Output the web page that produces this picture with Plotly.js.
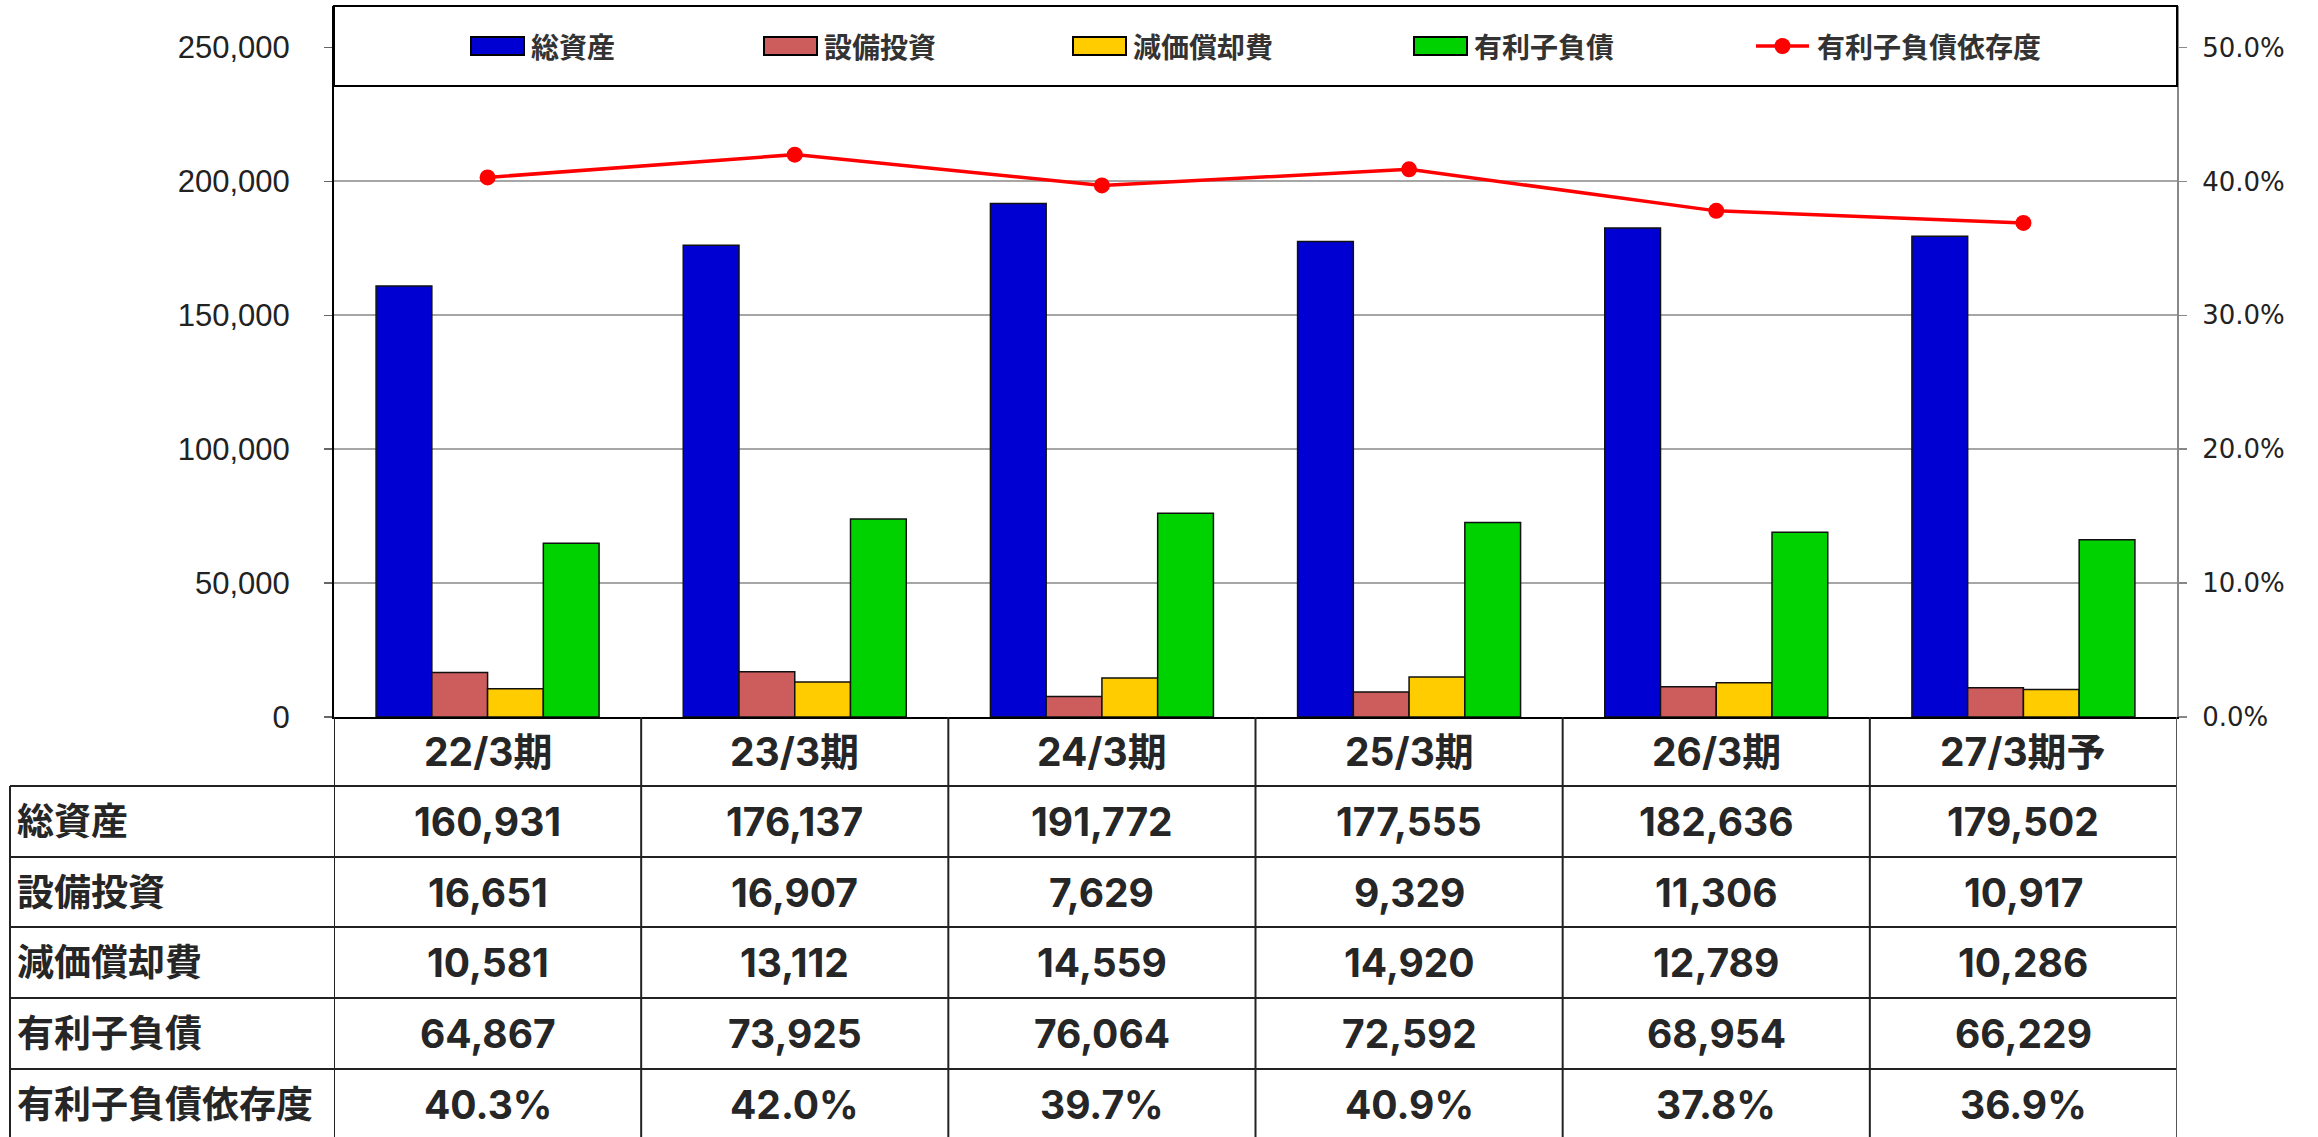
<!DOCTYPE html>
<html>
<head>
<meta charset="utf-8">
<script src="https://cdn.plot.ly/plotly-3.0.1.min.js"></script>
<style>
  html, body { margin: 0; padding: 0; background: #ffffff; }
  #chart { width: 2318px; height: 1137px; }
</style>
</head>
<body>
<div id="chart"></div>
<script>
// ---- data ----
const categories = ['22/3期', '23/3期', '24/3期', '25/3期', '26/3期', '27/3期予'];
const totalAssets = [160931, 176137, 191772, 177555, 182636, 179502];
const capex = [16651, 16907, 7629, 9329, 11306, 10917];
const depreciation = [10581, 13112, 14559, 14920, 12789, 10286];
const interestDebt = [64867, 73925, 76064, 72592, 68954, 66229];
const debtRatio = [40.3, 42.0, 39.7, 40.9, 37.8, 36.9]; // percent
const seriesNames = ['総資産', '設備投資', '減価償却費', '有利子負債', '有利子負債依存度'];

// ---- styling / geometry ----
const colors = ['#0000D2', '#CD5C5C', '#FFCC00', '#00D200', '#FF0000'];
const W = 2318, H = 1137;
const M = { l: 334, r: 141, t: 6, b: 420 };
const plotW = W - M.l - M.r, plotH = H - M.t - M.b;
const plotBottom = H - M.b;
const px2x = px => (px - M.l) / plotW;
const py2y = py => (plotBottom - py) / plotH;

const tableFont = { family: 'Inter, "Noto Sans CJK JP", sans-serif', size: 39, color: '#262626', weight: 700 };
const labelFont = { family: 'Inter, "Noto Sans CJK JP", sans-serif', size: 37, color: '#262626', weight: 700 };
const legendFont = { family: '"Noto Sans CJK JP", sans-serif', size: 28, color: '#333333', weight: 700 };

const barSeries = [totalAssets, capex, depreciation, interestDebt];
const traces = barSeries.map((vals, i) => ({
  type: 'bar',
  name: seriesNames[i],
  x: categories,
  y: vals,
  marker: { color: colors[i], line: { color: '#111111', width: 1.5 } },
  showlegend: false,
  hoverinfo: 'x+y+name'
}));
traces.push({
  type: 'scatter',
  mode: 'lines+markers',
  name: seriesNames[4],
  x: categories,
  y: debtRatio.map(v => v / 100),
  yaxis: 'y2',
  line: { color: colors[4], width: 3.5 },
  marker: { color: colors[4], size: 16 },
  showlegend: false
});

const shapes = [];
const annotations = [];

// Legend box
shapes.push({ type: 'rect', xref: 'paper', yref: 'paper', x0: 0, x1: 1, y0: py2y(86), y1: py2y(6),
  fillcolor: '#ffffff', line: { color: '#000000', width: 2 }, layer: 'above' });

// Custom legend entries
const legSymX = [471, 764, 1073, 1414, 1756];
const legTextX = [529, 822, 1131, 1472, 1815];
const legY = 46;
seriesNames.forEach((name, i) => {
  if (i < 4) {
    shapes.push({ type: 'rect', xref: 'paper', yref: 'paper',
      x0: px2x(legSymX[i]), x1: px2x(legSymX[i] + 53), y0: py2y(legY + 9), y1: py2y(legY - 9),
      fillcolor: colors[i], line: { color: '#000000', width: 2 }, layer: 'above' });
  } else {
    shapes.push({ type: 'line', xref: 'paper', yref: 'paper',
      x0: px2x(legSymX[i]), x1: px2x(legSymX[i] + 53), y0: py2y(legY), y1: py2y(legY),
      line: { color: colors[i], width: 3.5 }, layer: 'above' });
    shapes.push({ type: 'circle', xref: 'paper', yref: 'paper',
      x0: px2x(legSymX[i] + 26.5 - 8), x1: px2x(legSymX[i] + 26.5 + 8),
      y0: py2y(legY + 8), y1: py2y(legY - 8),
      fillcolor: colors[i], line: { color: colors[i], width: 0 }, layer: 'above' });
  }
  annotations.push({ xref: 'paper', yref: 'paper', x: px2x(legTextX[i]), y: py2y(legY),
    xanchor: 'left', yanchor: 'middle', text: name, showarrow: false, font: legendFont });
});

// ---- table ----
const rowBounds = [717, 786, 857, 927, 998, 1069, 1140];
const tableLeft = 10;
const rowLabels = seriesNames;
const fmtInt = v => v.toLocaleString('en-US');
const rowValues = [
  totalAssets.map(fmtInt),
  capex.map(fmtInt),
  depreciation.map(fmtInt),
  interestDebt.map(fmtInt),
  debtRatio.map(v => v.toFixed(1) + '%')
];

// horizontal lines (data rows)
for (let r = 1; r < rowBounds.length - 1; r++) {
  shapes.push({ type: 'line', xref: 'paper', yref: 'paper', x0: px2x(tableLeft), x1: 1,
    y0: py2y(rowBounds[r]), y1: py2y(rowBounds[r]), line: { color: '#222222', width: 2 } });
}
// left border of label column
shapes.push({ type: 'line', xref: 'paper', yref: 'paper', x0: px2x(tableLeft), x1: px2x(tableLeft),
  y0: py2y(rowBounds[1]), y1: py2y(rowBounds[rowBounds.length - 1]), line: { color: '#222222', width: 2 } });
// vertical column lines
for (let c = 0; c <= categories.length; c++) {
  shapes.push({ type: 'line', xref: 'x', yref: 'paper', x0: c - 0.5, x1: c - 0.5,
    y0: py2y(rowBounds[0]), y1: py2y(rowBounds[rowBounds.length - 1]),
    line: { color: (c === categories.length) ? '#555555' : '#222222', width: 2 } });
}
// header texts
categories.forEach((cat, c) => {
  annotations.push({ xref: 'x', yref: 'paper', x: c, y: py2y((rowBounds[0] + rowBounds[1]) / 2),
    xanchor: 'center', yanchor: 'middle', text: cat, showarrow: false, font: tableFont });
});
// rows
rowLabels.forEach((lab, r) => {
  const cy = py2y((rowBounds[r + 1] + rowBounds[r + 2]) / 2);
  annotations.push({ xref: 'paper', yref: 'paper', x: px2x(15), y: cy, xanchor: 'left', yanchor: 'middle',
    text: lab, showarrow: false, font: labelFont });
  rowValues[r].forEach((val, c) => {
    annotations.push({ xref: 'x', yref: 'paper', x: c, y: cy, xanchor: 'center', yanchor: 'middle',
      text: val, showarrow: false, font: tableFont });
  });
});

const layout = {
  width: W, height: H,
  margin: M,
  paper_bgcolor: '#ffffff',
  plot_bgcolor: '#ffffff',
  barmode: 'group',
  bargap: 0.274,
  bargroupgap: 0,
  showlegend: false,
  xaxis: {
    type: 'category',
    range: [-0.5, categories.length - 0.5],
    showticklabels: false,
    ticks: '',
    showgrid: false,
    showline: true, linecolor: '#000000', linewidth: 2,
    zeroline: false,
    fixedrange: true
  },
  yaxis: {
    range: [0, 265500],
    tickvals: [0, 50000, 100000, 150000, 200000, 250000],
    tickformat: ',d',
    ticks: 'outside', ticklen: 8, tickcolor: '#666666', tickwidth: 1.5,
    ticklabelstandoff: 28,
    tickfont: { family: '"Liberation Sans", Arial, sans-serif', size: 31, color: '#222222', weight: 500 },
    showgrid: true, gridcolor: '#a6a6a6', gridwidth: 2,
    showline: true, linecolor: '#000000', linewidth: 2,
    zeroline: false,
    fixedrange: true
  },
  yaxis2: {
    overlaying: 'y', side: 'right',
    range: [0, 0.531],
    tickvals: [0, 0.1, 0.2, 0.3, 0.4, 0.5],
    tickformat: '.1%',
    ticks: 'outside', ticklen: 8, tickcolor: '#888888', tickwidth: 1.5,
    ticklabelstandoff: 10,
    tickfont: { family: '"DejaVu Sans", Verdana, sans-serif', size: 26, color: '#222222' },
    showgrid: false,
    showline: true, linecolor: '#888888', linewidth: 2,
    zeroline: false,
    fixedrange: true
  },
  shapes: shapes,
  annotations: annotations
};

Plotly.newPlot('chart', traces, layout, { displayModeBar: false, staticPlot: true });
</script>
</body>
</html>
